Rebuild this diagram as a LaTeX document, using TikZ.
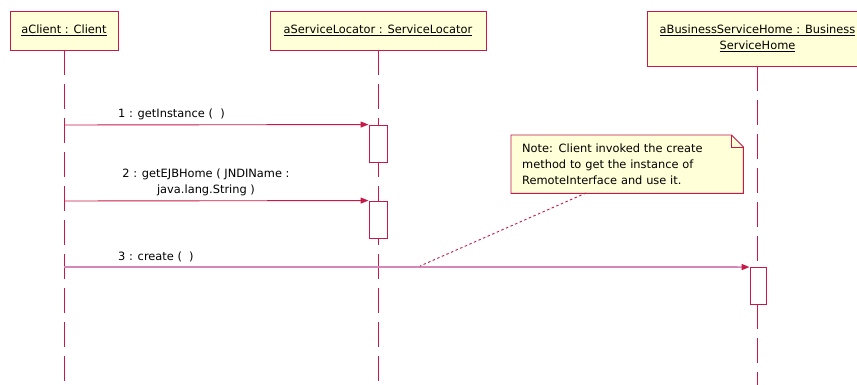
\documentclass[tikz,border=0pt]{standalone}
\usepackage{fontspec}
\setmainfont{DejaVu Sans}
\usetikzlibrary{arrows.meta,backgrounds}
\definecolor{umlred}{HTML}{C81848}
\definecolor{umlfill}{HTML}{FFFFD8}
\definecolor{msgpink}{HTML}{D586B8}
\begin{document}
\begin{tikzpicture}[x=1pt,y=-1pt,
  umlfont/.style={font=\fontsize{11.4}{16}\selectfont},
  object/.style={umlfont, draw=umlred, fill=umlfill, line width=0.9pt,
    align=center, inner sep=0pt},
  lifeline/.style={draw=umlred, line width=0.9pt, dash pattern=on 25pt off 9pt},
  activation/.style={draw=umlred, fill=white, line width=0.9pt,
    minimum width=18pt, minimum height=37pt, inner sep=0pt},
  message/.style={draw=umlred, line width=0.9pt,
    -{Triangle[length=8pt,width=6pt,color=umlred]}},
  msglabel/.style={umlfont, inner sep=0pt, align=center},
  notebox/.style={draw=umlred, fill=umlfill, line width=0.9pt},
  notetext/.style={umlfont, align=left, text width=210pt, inner xsep=11pt,
    inner ysep=0pt, minimum width=232pt, minimum height=58pt},
  noteline/.style={draw=umlred, line width=0.9pt, dash pattern=on 2.5pt off 2.5pt}
]
\clip (0,0) rectangle (857,385);
\useasboundingbox (0,0) rectangle (857,385);

% objects
\node[object, minimum width=108pt, minimum height=39pt] (client) at (64,30.5)
  {\underline{aClient : Client}};
\node[object, minimum width=216pt, minimum height=39pt] (locator) at (378,30.5)
  {\underline{aServiceLocator : ServiceLocator}};
\node[object, minimum width=221pt, minimum height=55pt] (home) at (757.5,38.5)
  {\underline{aBusinessServiceHome : Business}\\\underline{ServiceHome}};

% lifeline ends
\coordinate (clientend) at (64,385);
\coordinate (locatorend) at (378,385);
\coordinate (homeend) at (757,385);

\draw[lifeline] (client.south) -- (clientend);
\draw[lifeline] (locator.south) -- (locatorend);
\draw[lifeline] (home.south -| homeend) -- (homeend);

% activations
\node[activation] (act1) at (378,143.5) {};
\node[activation] (act2) at (378,219.5) {};
\node[activation, minimum width=16pt] (act3) at (758,286) {};

% message start points on the client lifeline
\coordinate (m1) at (64,125);
\coordinate (m2) at (64,201);
\coordinate (m3) at (64,267);

\draw[message] (m1) -- (act1.north west);
\draw[message] (m2) -- (act2.north west);
\draw[message, draw=msgpink, line width=1.6pt] (m3) -- (act3.north west);

% message labels
\node[msglabel, anchor=base west] (lab1) at (118,118) {1 : getInstance ( \ )};
\node[msglabel, anchor=south] (lab2) at (206,196) {2 : getEJBHome ( JNDIName :\\java.lang.String )};
\node[msglabel, anchor=base west] (lab3) at (118,260) {3 : create ( \ )};

% note
\node[notetext, anchor=north west] (note) at (511,135)
  {Note: Client invoked the create\\method to get the instance of\\RemoteInterface and use it.};
\begin{scope}[on background layer]
  \draw[notebox] (note.north west) -- ([xshift=-12pt]note.north east)
    -- ([yshift=-12pt]note.north east) -- (note.south east)
    -- (note.south west) -- cycle;
  \draw[umlred, line width=0.7pt] ([xshift=-12pt]note.north east)
    -- ([xshift=-12pt,yshift=-12pt]note.north east)
    -- ([yshift=-12pt]note.north east);
\end{scope}
\coordinate (noteanchor) at (586,193);
\coordinate (msganchor) at (420,266);
\draw[noteline] (noteanchor) -- (msganchor);
\end{tikzpicture}
\end{document}
